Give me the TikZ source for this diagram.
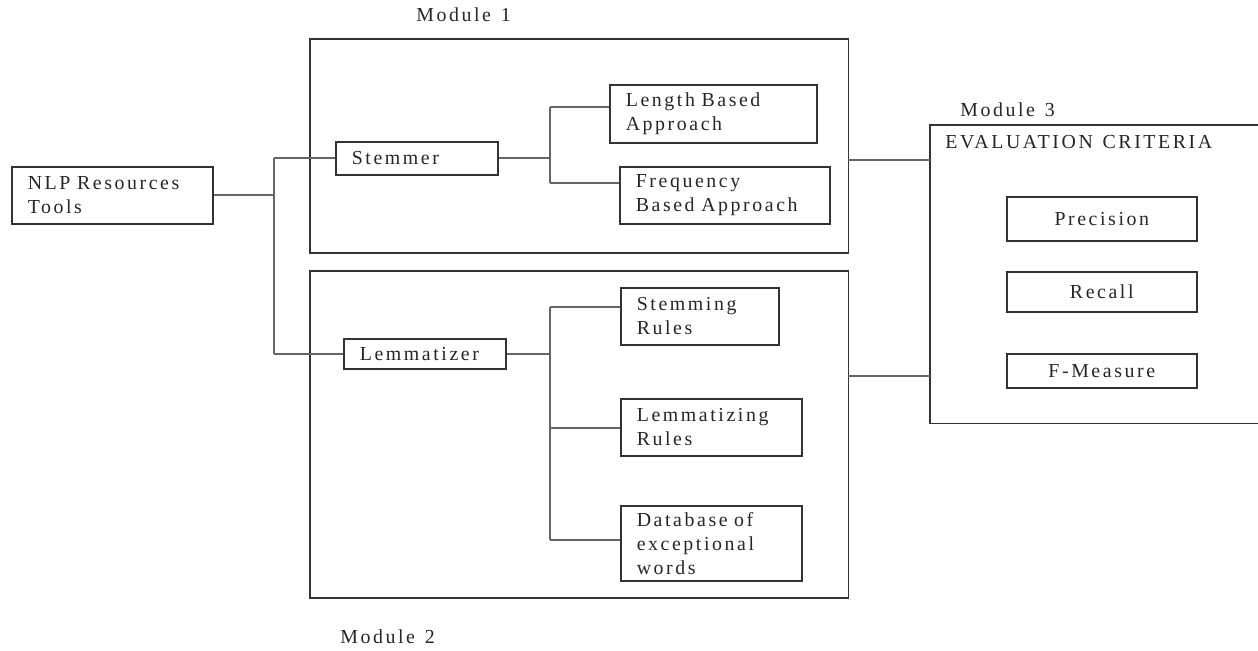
\documentclass[tikz,border=0pt]{standalone}
\usepackage{fontspec}
\setmainfont{Liberation Serif}[LetterSpace=13, WordSpace=1.3]
\newcommand{\fs}{\fontsize{11.3}{13.6}\selectfont}
\begin{document}
\begin{tikzpicture}[x=0.02cm,y=-0.02cm,
  box/.style={draw=black!80, line width=0.9pt, anchor=north west, inner xsep=0.32cm, inner ysep=0pt, align=left, font=\fs, text=black!85},
  ebox/.style={draw=black!80, line width=0.9pt, anchor=north west, inner sep=0pt, align=center, font=\fs, text=black!85, minimum width=3.8cm},
  frame/.style={draw=black!80, line width=0.9pt, anchor=north west, inner sep=0pt},
  conn/.style={draw=black!60, line width=1.1pt},
  lbl/.style={font=\fs, text=black!85, anchor=west, inner sep=0pt}]
\useasboundingbox (0,0) rectangle (1258,650);

% module frames
\node[frame, minimum width=10.78cm, minimum height=4.28cm] (m1) at (309,38) {};
\node[frame, minimum width=10.78cm, minimum height=6.54cm] (m2) at (309,270) {};
\node[inner sep=0pt, anchor=north west, minimum width=6.6cm, minimum height=5.96cm] (m3) at (930,125) {};
\draw[black!80, line width=0.9pt] (m3.north east) -- (m3.north west) -- (m3.south west) -- (m3.south east);

% labels
\node[lbl] (l1) at (416,15) {Module 1};
\node[lbl] (l2) at (340,637) {Module 2};
\node[lbl] (l3) at (960,110) {Module 3};
\node[lbl] (ev) at (945,142) {EVALUATION CRITERIA};

% boxes
\node[box, minimum width=4.02cm, minimum height=1.14cm, text width=3.38cm] (nlp) at (11,166) {NLP Resources\\Tools};
\node[box, minimum width=3.24cm, minimum height=0.66cm, text width=2.6cm] (stem) at (335,141) {Stemmer};
\node[box, minimum width=4.14cm, minimum height=1.16cm, text width=3.5cm] (len) at (609,84) {Length Based\\Approach};
\node[box, minimum width=4.2cm, minimum height=1.14cm, text width=3.56cm] (freq) at (619,166) {Frequency\\Based Approach};
\node[box, minimum width=3.24cm, minimum height=0.6cm, text width=2.6cm] (lem) at (343,338) {Lemmatizer};
\node[box, minimum width=3.16cm, minimum height=1.14cm, text width=2.52cm] (sr) at (620,287) {Stemming\\Rules};
\node[box, minimum width=3.62cm, minimum height=1.14cm, text width=2.98cm] (lr) at (620,398) {Lemmatizing\\Rules};
\node[box, minimum width=3.62cm, minimum height=1.5cm, text width=2.98cm] (db) at (620,505) {Database of\\exceptional\\words};
\node[ebox, minimum height=0.88cm] (prec) at (1006,196) {Precision};
\node[ebox, minimum height=0.8cm] (rec) at (1006,271) {Recall};
\node[ebox, minimum height=0.68cm] (fm) at (1006,353) {F-Measure};

% connectors
\coordinate (j1) at (274,0);
\coordinate (j2) at (550,0);
\coordinate (b1) at (550,107);
\coordinate (b2) at (550,183);
\coordinate (c1) at (550,307);
\coordinate (c2) at (550,428);
\coordinate (c3) at (550,540);
\coordinate (r1) at (848,160);
\coordinate (r2) at (848,376);

\draw[conn] (nlp.east) -- (nlp.east -| j1);
\draw[conn] (stem.west -| j1) -- (lem.west -| j1);
\draw[conn] (stem.west -| j1) -- (stem.west);
\draw[conn] (lem.west -| j1) -- (lem.west);

\draw[conn] (stem.east) -- (stem.east -| j2);
\draw[conn] (b1) -- (b2);
\draw[conn] (b1) -- (b1 -| len.west);
\draw[conn] (b2) -- (b2 -| freq.west);

\draw[conn] (lem.east) -- (lem.east -| j2);
\draw[conn] (c1) -- (c3);
\draw[conn] (c1) -- (c1 -| sr.west);
\draw[conn] (c2) -- (c2 -| lr.west);
\draw[conn] (c3) -- (c3 -| db.west);

\draw[conn] (r1) -- (r1 -| m3.west);
\draw[conn] (r2) -- (r2 -| m3.west);
\end{tikzpicture}
\end{document}
